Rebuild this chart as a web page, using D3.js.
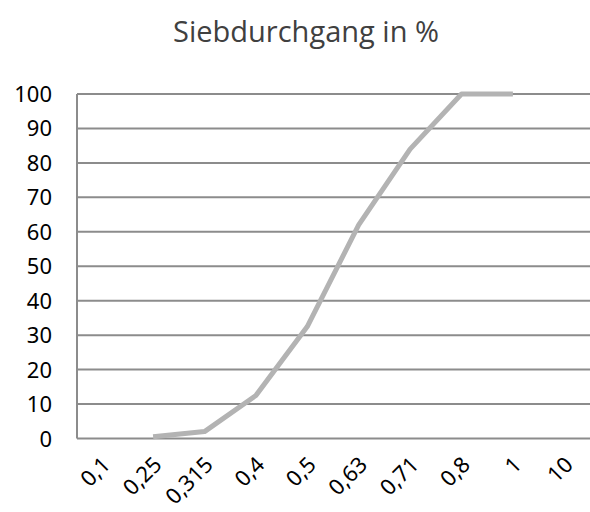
<!DOCTYPE html>
<meta charset="utf-8">
<script src="https://d3js.org/d3.v7.min.js"></script>
<style>
  body { margin: 0; background: #fff; }
</style>
<div id="screen"></div>
<script>
  // data
  var categories = ["0,1", "0,25", "0,315", "0,4", "0,5", "0,63", "0,71", "0,8", "1", "10"];
  var values = [null, 0.5, 2, 12.5, 32.5, 62, 84, 100, 100, null];
  var yTicks = [0, 10, 20, 30, 40, 50, 60, 70, 80, 90, 100];

  var width = 590, height = 512;
  var plotLeft = 77, plotTop = 94, plotBottom = 438.5;

  var svg = d3.select("#screen").append("svg")
      .attr("width", width)
      .attr("height", height);

  svg.append("text")
      .attr("x", 306)
      .attr("y", 42)
      .attr("text-anchor", "middle")
      .style("font-family", "Open Sans, Noto Sans, sans-serif")
      .style("font-size", "29px")
      .style("fill", "#404040")
      .text("Siebdurchgang in %");

  var x = d3.scaleBand().domain(categories).range([76, 590]);
  var y = d3.scaleLinear().domain([0, 100]).range([plotBottom, plotTop]);

  // gridlines
  svg.append("g").selectAll("line")
      .data(yTicks)
      .enter().append("line")
      .attr("x1", plotLeft).attr("x2", width)
      .attr("y1", d => y(d)).attr("y2", d => y(d))
      .style("stroke", "#8c8c8c")
      .style("stroke-width", 2);

  svg.append("line")
      .attr("x1", plotLeft).attr("x2", plotLeft)
      .attr("y1", y(100)).attr("y2", y(0))
      .style("stroke", "#8c8c8c")
      .style("stroke-width", 2);

  // y labels
  svg.append("g").selectAll("text")
      .data(yTicks)
      .enter().append("text")
      .attr("x", 52)
      .attr("y", d => y(d) + 8)
      .attr("text-anchor", "end")
      .style("font-family", "Noto Sans, sans-serif")
      .style("font-size", "22px")
      .style("fill", "#000")
      .text(d => d);

  // x labels
  svg.append("g").selectAll("text")
      .data(categories)
      .enter().append("text")
      .attr("transform", d => "translate(" + (x(d) + x.bandwidth() / 2 + 10) + ",466) rotate(-45)")
      .attr("text-anchor", "end")
      .style("font-family", "Noto Sans, sans-serif")
      .style("font-size", "22px")
      .style("fill", "#000")
      .text(d => d);

  // line
  var line = d3.line()
      .defined(d => d.v !== null)
      .x(d => x(d.c) + x.bandwidth() / 2)
      .y(d => y(d.v));

  svg.append("path")
      .datum(categories.map((c, i) => ({c: c, v: values[i]})))
      .attr("d", line)
      .style("fill", "none")
      .style("stroke", "#b3b3b3")
      .style("stroke-width", 5)
      .style("stroke-linejoin", "round");
</script>
